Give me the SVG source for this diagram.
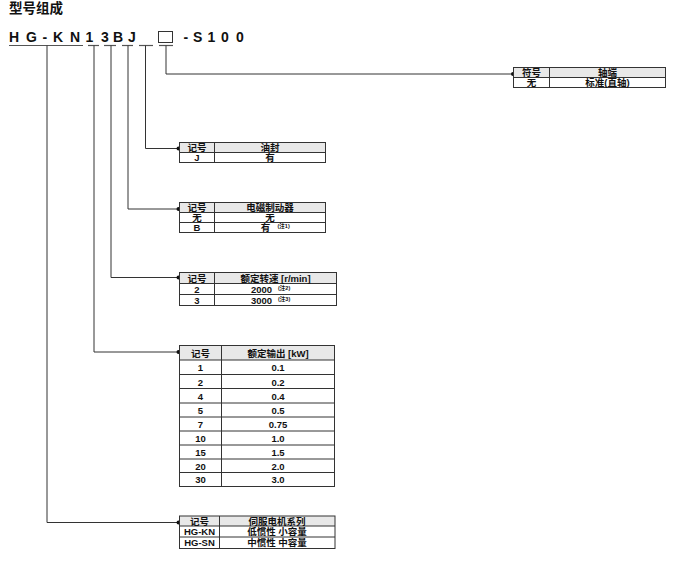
<svg xmlns="http://www.w3.org/2000/svg" width="682" height="568" viewBox="0 0 682 568">
<style>
.t{font-family:"Liberation Sans","Noto Sans CJK SC",sans-serif;font-weight:bold;fill:#111}
.c{font-family:"Liberation Sans","Noto Sans CJK SC",sans-serif;font-weight:bold;font-size:9.5px;fill:#111;text-anchor:middle}
.n{font-family:"Liberation Sans","Noto Sans CJK SC",sans-serif;font-weight:bold;font-size:5.5px;fill:#111}
.hd{fill:#e8e8e8;stroke:none}
.bx{fill:none;stroke:#333;stroke-width:1}
.ln{fill:none;stroke:#333;stroke-width:1}
.ul{stroke:#555;stroke-width:1.2}
.cn{fill:none;stroke:#333;stroke-width:1}
.dot{fill:#111}
</style>
<text class="t" x="9" y="13" font-size="13.5">型号组成</text>
<g id="code">
<text class="t" font-size="14" y="42.3"><tspan x="9">H</tspan><tspan x="26">G</tspan><tspan x="42.5">-</tspan><tspan x="53">K</tspan><tspan x="70">N</tspan><tspan x="85.5">1</tspan><tspan x="101">3</tspan><tspan x="113">B</tspan><tspan x="128">J</tspan><tspan x="183.5">-</tspan><tspan x="193">S</tspan><tspan x="207.5">1</tspan><tspan x="221">0</tspan><tspan x="236">0</tspan></text>
<rect x="158.5" y="31.5" width="14" height="11" fill="none" stroke="#333" stroke-width="1"/>
<line class="ul" x1="9" y1="45.5" x2="83" y2="45.5"/>
<line class="ul" x1="88" y1="45.5" x2="99" y2="45.5"/>
<line class="ul" x1="104" y1="45.5" x2="116" y2="45.5"/>
<line class="ul" x1="122" y1="45.5" x2="133" y2="45.5"/>
<line class="ul" x1="139" y1="45.5" x2="153" y2="45.5"/>
<line class="ul" x1="159" y1="45.5" x2="173" y2="45.5"/>
</g>
<g id="connectors">
<polyline class="cn" points="166,45.5 166,74 513,74"/>
<polyline class="cn" points="145.5,45.5 145.5,148.5 179,148.5"/>
<polyline class="cn" points="128,45.5 128,209 179,209"/>
<polyline class="cn" points="111,45.5 111,277.5 179,277.5"/>
<polyline class="cn" points="94,45.5 94,352 179,352"/>
<polyline class="cn" points="47,45.5 47,522.5 179,522.5"/>
<circle class="dot" cx="513" cy="74" r="2"/>
<circle class="dot" cx="178.5" cy="148.5" r="2"/>
<circle class="dot" cx="178.5" cy="209" r="2"/>
<circle class="dot" cx="178.5" cy="277.5" r="2"/>
<circle class="dot" cx="178.5" cy="352" r="2"/>
<circle class="dot" cx="178.5" cy="522.5" r="2"/>
</g>
<g id="t-shaft">
<rect class="hd" x="513.5" y="67.5" width="152" height="10"/>
<rect class="bx" x="513.5" y="67.5" width="152" height="20"/>
<line class="ln" x1="513.5" y1="77.5" x2="665.5" y2="77.5"/>
<line class="ln" x1="549.5" y1="67.5" x2="549.5" y2="87.5"/>
<text class="c" x="531.5" y="76">符号</text><text class="c" x="607.5" y="76">轴端</text>
<text class="c" x="531.5" y="86">无</text><text class="c" x="607.5" y="86">标准(直轴)</text>
</g>
<g id="t-seal">
<rect class="hd" x="179.5" y="142.5" width="146" height="10"/>
<rect class="bx" x="179.5" y="142.5" width="146" height="20"/>
<line class="ln" x1="179.5" y1="152.5" x2="325.5" y2="152.5"/>
<line class="ln" x1="214.5" y1="142.5" x2="214.5" y2="162.5"/>
<text class="c" x="197" y="151">记号</text><text class="c" x="270" y="151">油封</text>
<text class="c" x="197" y="161">J</text><text class="c" x="270" y="161">有</text>
</g>
<g id="t-brake">
<rect class="hd" x="179.5" y="202.5" width="146" height="10"/>
<rect class="bx" x="179.5" y="202.5" width="146" height="30"/>
<line class="ln" x1="179.5" y1="212.5" x2="325.5" y2="212.5"/>
<line class="ln" x1="179.5" y1="222.5" x2="325.5" y2="222.5"/>
<line class="ln" x1="214.5" y1="202.5" x2="214.5" y2="232.5"/>
<text class="c" x="197" y="211">记号</text><text class="c" x="270" y="211">电磁制动器</text>
<text class="c" x="197" y="221">无</text><text class="c" x="270" y="221">无</text>
<text class="c" x="197" y="231">B</text><text class="c" x="265.5" y="231">有</text><text class="n" x="277.5" y="227.5">(注1)</text>
</g>
<g id="t-speed">
<rect class="hd" x="179.5" y="272.5" width="157" height="11"/>
<rect class="bx" x="179.5" y="272.5" width="157" height="33"/>
<line class="ln" x1="179.5" y1="283.5" x2="336.5" y2="283.5"/>
<line class="ln" x1="179.5" y1="294.5" x2="336.5" y2="294.5"/>
<line class="ln" x1="214.5" y1="272.5" x2="214.5" y2="305.5"/>
<text class="c" x="197" y="281.5">记号</text><text class="c" x="275.5" y="281.5">额定转速 [r/min]</text>
<text class="c" x="197" y="293">2</text><text class="c" x="261.5" y="293">2000</text><text class="n" x="278" y="290">(注2)</text>
<text class="c" x="197" y="304">3</text><text class="c" x="261.5" y="304">3000</text><text class="n" x="278" y="301">(注3)</text>
</g>
<g id="t-power">
<rect class="hd" x="179.5" y="345.5" width="155" height="14.5"/>
<rect class="bx" x="179.5" y="345.5" width="155" height="141"/>
<line class="ln" x1="179.5" y1="360" x2="334.5" y2="360"/>
<line class="ln" x1="179.5" y1="374.5" x2="334.5" y2="374.5"/>
<line class="ln" x1="179.5" y1="388.5" x2="334.5" y2="388.5"/>
<line class="ln" x1="179.5" y1="403" x2="334.5" y2="403"/>
<line class="ln" x1="179.5" y1="417" x2="334.5" y2="417"/>
<line class="ln" x1="179.5" y1="431" x2="334.5" y2="431"/>
<line class="ln" x1="179.5" y1="445" x2="334.5" y2="445"/>
<line class="ln" x1="179.5" y1="459" x2="334.5" y2="459"/>
<line class="ln" x1="179.5" y1="472.5" x2="334.5" y2="472.5"/>
<line class="ln" x1="221.5" y1="345.5" x2="221.5" y2="486.5"/>
<text class="c" x="200.5" y="356.5">记号</text><text class="c" x="278" y="356.5">额定输出 [kW]</text>
<text class="c" x="200.5" y="371">1</text><text class="c" x="278" y="371">0.1</text>
<text class="c" x="200.5" y="385.5">2</text><text class="c" x="278" y="385.5">0.2</text>
<text class="c" x="200.5" y="399.5">4</text><text class="c" x="278" y="399.5">0.4</text>
<text class="c" x="200.5" y="413.5">5</text><text class="c" x="278" y="413.5">0.5</text>
<text class="c" x="200.5" y="427.5">7</text><text class="c" x="278" y="427.5">0.75</text>
<text class="c" x="200.5" y="441.5">10</text><text class="c" x="278" y="441.5">1.0</text>
<text class="c" x="200.5" y="455.5">15</text><text class="c" x="278" y="455.5">1.5</text>
<text class="c" x="200.5" y="469.5">20</text><text class="c" x="278" y="469.5">2.0</text>
<text class="c" x="200.5" y="483">30</text><text class="c" x="278" y="483">3.0</text>
</g>
<g id="t-series">
<rect class="hd" x="179.5" y="516" width="155.5" height="10"/>
<rect class="bx" x="179.5" y="516" width="155.5" height="32.5"/>
<line class="ln" x1="179.5" y1="526" x2="335" y2="526"/>
<line class="ln" x1="179.5" y1="537" x2="335" y2="537"/>
<line class="ln" x1="219.5" y1="516" x2="219.5" y2="548.5"/>
<text class="c" x="199.5" y="524.5">记号</text><text class="c" x="277" y="524.5">伺服电机系列</text>
<text class="c" x="199.5" y="535">HG-KN</text><text class="c" x="277" y="535">低惯性 小容量</text>
<text class="c" x="199.5" y="546">HG-SN</text><text class="c" x="277" y="546">中惯性 中容量</text>
</g>
</svg>
